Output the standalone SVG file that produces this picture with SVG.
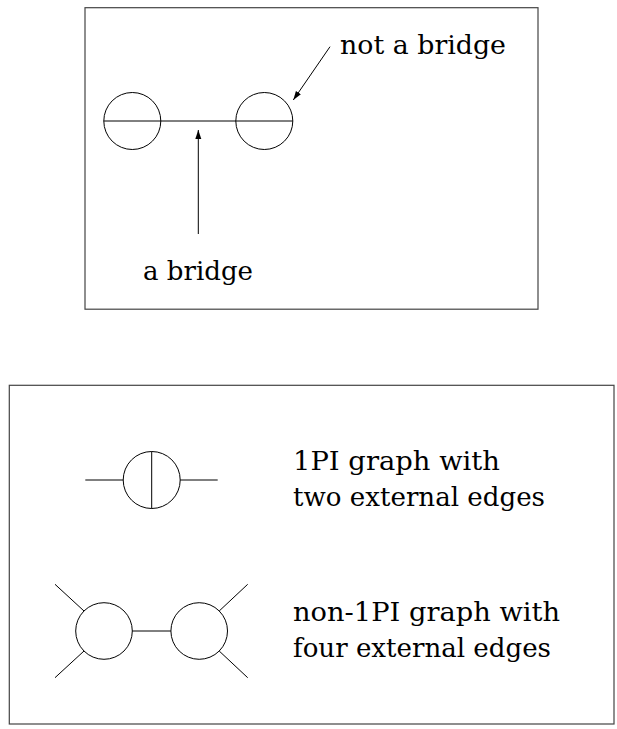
<svg xmlns="http://www.w3.org/2000/svg" width="617" height="729" viewBox="0 0 617 729">
  <style>
    .frame { fill: none; stroke: #444; stroke-width: 1.2; }
    .ln { fill: none; stroke: #000; stroke-width: 1; }
    text { font-family: "DejaVu Serif", "Liberation Serif", serif; font-size: 26px; fill: #000; }
  </style>
  <defs>
    <marker id="arr" markerUnits="userSpaceOnUse" markerWidth="10" markerHeight="8" refX="9" refY="3" orient="auto">
      <path d="M0,0 L9,3 L0,6 z" fill="#000"/>
    </marker>
  </defs>
  <rect width="617" height="729" fill="#fff"/>

  <g id="panel-top">
    <rect class="frame" x="85" y="7.7" width="453" height="301.5"/>
    <g id="bridge-graph">
      <circle class="ln" cx="132.3" cy="121" r="28.5"/>
      <circle class="ln" cx="264.3" cy="121" r="28.5"/>
      <line class="ln" x1="103.8" y1="121" x2="292.8" y2="121"/>
    </g>
    <g id="label-not-bridge">
      <text x="340" y="54" textLength="166" lengthAdjust="spacingAndGlyphs">not a bridge</text>
    </g>
    <g id="label-bridge">
      <text x="143" y="280" textLength="110" lengthAdjust="spacingAndGlyphs">a bridge</text>
    </g>
  </g>

  <g id="connectors">
    <line class="ln" x1="198.3" y1="234" x2="198.3" y2="130" marker-end="url(#arr)"/>
    <line class="ln" x1="330" y1="46.7" x2="293.3" y2="100" marker-end="url(#arr)"/>
  </g>

  <g id="panel-bottom">
    <rect class="frame" x="9.3" y="385.3" width="604.7" height="338.7"/>
    <g id="graph-1pi">
      <circle class="ln" cx="151.7" cy="480" r="28.5"/>
      <line class="ln" x1="85.3" y1="480" x2="123.2" y2="480"/>
      <line class="ln" x1="180.2" y1="480" x2="217.7" y2="480"/>
      <line class="ln" x1="151.7" y1="451.5" x2="151.7" y2="508.5"/>
    </g>
    <g id="label-1pi">
      <text x="293" y="470" textLength="207" lengthAdjust="spacingAndGlyphs">1PI graph with</text>
      <text x="293" y="506" textLength="252" lengthAdjust="spacingAndGlyphs">two external edges</text>
    </g>
    <g id="graph-non1pi">
      <circle class="ln" cx="104" cy="631" r="28.3"/>
      <circle class="ln" cx="199.2" cy="631" r="28.3"/>
      <line class="ln" x1="132.3" y1="631" x2="170.9" y2="631"/>
      <line class="ln" x1="55" y1="584.3" x2="84" y2="611"/>
      <line class="ln" x1="55" y1="677.7" x2="84" y2="651"/>
      <line class="ln" x1="247.7" y1="584.3" x2="219.2" y2="611"/>
      <line class="ln" x1="247.7" y1="677.7" x2="219.2" y2="651"/>
    </g>
    <g id="label-non1pi">
      <text x="293" y="620.7" textLength="267" lengthAdjust="spacingAndGlyphs">non-1PI graph with</text>
      <text x="293" y="657.3" textLength="258" lengthAdjust="spacingAndGlyphs">four external edges</text>
    </g>
  </g>
</svg>
